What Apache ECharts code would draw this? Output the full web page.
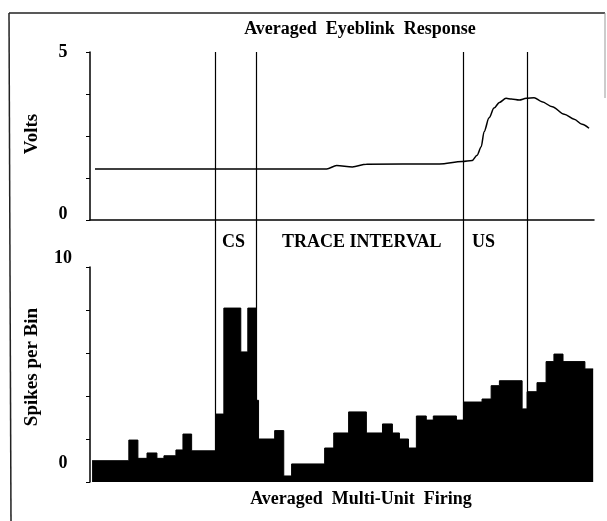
<!DOCTYPE html>
<html>
<head>
<meta charset="utf-8">
<title>Averaged Eyeblink Response</title>
<script src="https://cdn.jsdelivr.net/npm/echarts@6/dist/echarts.min.js"></script>
<style>
  html, body { margin: 0; padding: 0; background: #fff; }
  #chart { width: 607px; height: 521px; }
</style>
</head>
<body>
<div id="chart"></div>
<script>
// time axis in ms, 0..1220
const xMax = 1220;

// eyeblink trace (ms, volts)
const blinkTimes = [12, 266, 573, 597, 635, 669, 846, 901, 925, 937, 947, 954, 966, 978, 991, 1007, 1020, 1039, 1056, 1075, 1094, 1119, 1148, 1172, 1191, 1208];
const blinkVolts = [1.52, 1.52, 1.52, 1.62, 1.58, 1.66, 1.67, 1.74, 1.77, 1.93, 2.18, 2.63, 3.04, 3.33, 3.50, 3.62, 3.60, 3.57, 3.62, 3.64, 3.52, 3.37, 3.15, 3.00, 2.85, 2.73];

// multi-unit histogram: bin start (ms) and spikes per bin
const binStarts = [5, 94, 116, 138, 162, 179, 208, 225, 246, 304, 324, 365, 382, 403, 408, 447, 469, 488, 568, 590, 626, 669, 708, 732, 749, 771, 790, 814, 831, 887, 904, 949, 971, 991, 1046, 1058, 1082, 1104, 1123, 1145, 1198];
const binSpikes = [0.99, 1.95, 1.10, 1.35, 1.10, 1.22, 1.49, 2.23, 1.45, 3.16, 8.09, 6.05, 8.09, 3.80, 2.00, 2.39, 0.28, 0.84, 1.58, 2.28, 3.26, 2.28, 2.70, 2.28, 2.00, 1.58, 3.07, 2.88, 3.07, 2.88, 3.72, 3.86, 4.48, 4.71, 3.40, 4.20, 4.62, 5.60, 5.95, 5.60, 5.26];
const binEnd = 1218;

// CS on/off, US on/off
const eventTimes = [304, 403, 904, 1058];

const voltTicks = ['0', '5'];
const spikeTicks = ['0', '10'];

const font = 'Liberation Serif';
const chart = echarts.init(document.getElementById('chart'));

const histData = binStarts.map((t, i) => [t, binSpikes[i]]);
histData.push([binEnd, binSpikes[binSpikes.length - 1]]);

const lbl = (size) => ({ fontFamily: font, fontWeight: 'bold', fontSize: size, fill: '#000' });

const option = {
  backgroundColor: '#fff',
  animation: false,
  grid: [
    { left: 90, top: 52, width: 504, height: 168 },
    { left: 90, top: 267, width: 504, height: 215 },
    { left: 90, top: 52, width: 504, height: 430 }
  ],
  xAxis: [
    {
      gridIndex: 0, type: 'value', min: 0, max: xMax,
      axisLine: { show: true, onZero: false, lineStyle: { color: '#000', width: 1.5 } },
      axisTick: { show: false }, axisLabel: { show: false }, splitLine: { show: false }
    },
    { gridIndex: 1, type: 'value', min: 0, max: xMax, show: false },
    { gridIndex: 2, type: 'value', min: 0, max: xMax, show: false }
  ],
  yAxis: [
    {
      gridIndex: 0, type: 'value', min: 0, max: 5, interval: 1.25,
      axisLine: { show: true, lineStyle: { color: '#000', width: 1.5 } },
      axisTick: { show: true, length: 4, lineStyle: { color: '#000' } },
      splitLine: { show: false },
      axisLabel: {
        margin: 27, align: 'center', color: '#000',
        fontFamily: font, fontWeight: 'bold', fontSize: 18,
        formatter: v => v === 5 ? voltTicks[1] : v === 0 ? '{lo|' + voltTicks[0] + '}' : '',
        rich: { lo: { fontFamily: font, fontWeight: 'bold', fontSize: 18, color: '#000', padding: [0, 0, 12, 0] } }
      }
    },
    {
      gridIndex: 1, type: 'value', min: 0, max: 10, interval: 2,
      axisLine: { show: true, lineStyle: { color: '#000', width: 1.5 } },
      axisTick: { show: true, length: 4, lineStyle: { color: '#000' } },
      splitLine: { show: false },
      axisLabel: {
        margin: 27, align: 'center', color: '#000',
        fontFamily: font, fontWeight: 'bold', fontSize: 18,
        formatter: v => v === 10 ? '{hi|' + spikeTicks[1] + '}' : v === 0 ? '{lo|' + spikeTicks[0] + '}' : '',
        rich: {
          hi: { fontFamily: font, fontWeight: 'bold', fontSize: 18, color: '#000', padding: [0, 0, 18, 0] },
          lo: { fontFamily: font, fontWeight: 'bold', fontSize: 18, color: '#000', padding: [0, 0, 38, 0] }
        }
      }
    },
    { gridIndex: 2, type: 'value', min: 0, max: 1, show: false }
  ],
  series: [
    {
      name: 'Eyeblink', type: 'line', xAxisIndex: 0, yAxisIndex: 0,
      data: blinkTimes.map((t, i) => [t, blinkVolts[i]]),
      smooth: 0.3, smoothMonotone: 'x', showSymbol: false,
      lineStyle: { color: '#000', width: 1.5 }
    },
    {
      name: 'Multi-unit', type: 'line', xAxisIndex: 1, yAxisIndex: 1,
      data: histData, step: 'end', showSymbol: false,
      lineStyle: { color: '#000', width: 1 },
      areaStyle: { color: '#000', opacity: 1 }
    },
    {
      name: 'Events', type: 'line', xAxisIndex: 2, yAxisIndex: 2,
      data: [], silent: true,
      markLine: {
        silent: true, symbol: 'none', animation: false,
        label: { show: false },
        lineStyle: { color: '#000', width: 1.2, type: 'solid' },
        data: eventTimes.map(t => ({ xAxis: t }))
      }
    }
  ],
  graphic: [
    // frame
    { type: 'line', shape: { x1: 9, y1: 13, x2: 605, y2: 13 }, style: { stroke: '#222', lineWidth: 1.5 } },
    { type: 'line', shape: { x1: 9, y1: 13, x2: 11, y2: 521 }, style: { stroke: '#222', lineWidth: 1.5 } },
    { type: 'line', shape: { x1: 605, y1: 13, x2: 605, y2: 98 }, style: { stroke: '#999', lineWidth: 1 } },
    // titles
    { type: 'text', x: 360, y: 29, style: Object.assign(lbl(18), { text: 'Averaged  Eyeblink  Response', align: 'center', verticalAlign: 'middle' }) },
    { type: 'text', x: 361, y: 499, style: Object.assign(lbl(18), { text: 'Averaged  Multi-Unit  Firing', align: 'center', verticalAlign: 'middle' }) },
    // axis names
    { type: 'text', x: 32, y: 134, rotation: Math.PI / 2, style: Object.assign(lbl(19), { text: 'Volts', align: 'center', verticalAlign: 'middle' }) },
    { type: 'text', x: 32, y: 367, rotation: Math.PI / 2, style: Object.assign(lbl(19), { text: 'Spikes per Bin', align: 'center', verticalAlign: 'middle' }) },
    // interval labels
    { type: 'text', x: 222, y: 242, style: Object.assign(lbl(18), { text: 'CS', align: 'left', verticalAlign: 'middle' }) },
    { type: 'text', x: 282, y: 242, style: Object.assign(lbl(18), { text: 'TRACE INTERVAL', align: 'left', verticalAlign: 'middle' }) },
    { type: 'text', x: 472, y: 242, style: Object.assign(lbl(18), { text: 'US', align: 'left', verticalAlign: 'middle' }) }
  ]
};

chart.setOption(option);
</script>
</body>
</html>
